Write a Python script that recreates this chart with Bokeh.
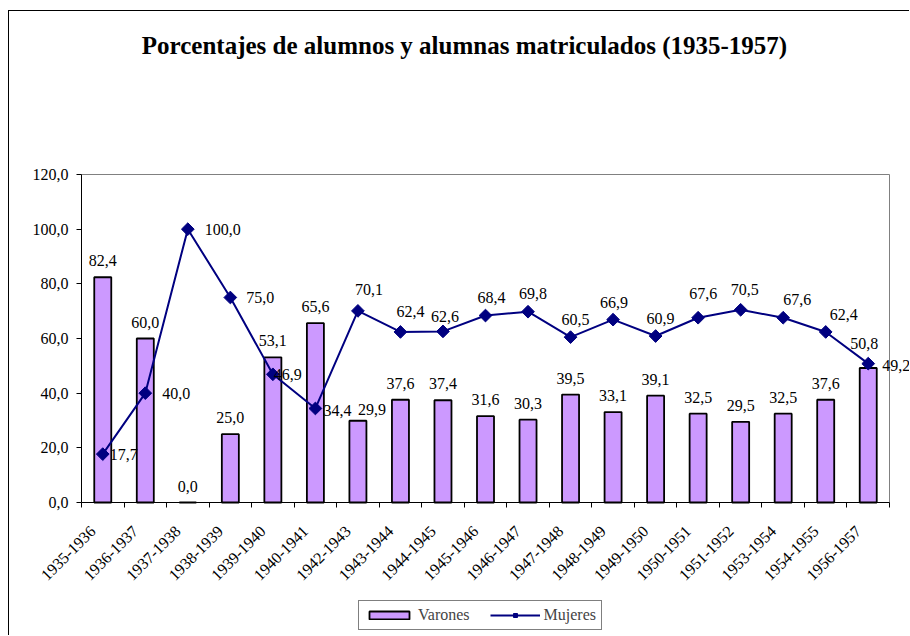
import numpy as np
from bokeh.plotting import figure
from bokeh.models import (Range1d, FixedTicker, ColumnDataSource, LabelSet, Label,
                          Legend, LegendItem)
from bokeh.embed import file_html
from bokeh.resources import INLINE
from bokeh.core.properties import value

# ---------------- data ----------------
categories = ["1935-1936", "1936-1937", "1937-1938", "1938-1939", "1939-1940",
              "1940-1941", "1942-1943", "1943-1944", "1944-1945", "1945-1946",
              "1946-1947", "1947-1948", "1948-1949", "1949-1950", "1950-1951",
              "1951-1952", "1953-1954", "1954-1955", "1956-1957"]
varones = [82.4, 60.0, 0.0, 25.0, 53.1, 65.6, 29.9, 37.6, 37.4, 31.6,
           30.3, 39.5, 33.1, 39.1, 32.5, 29.5, 32.5, 37.6, 49.2]
mujeres = [17.7, 40.0, 100.0, 75.0, 46.9, 34.4, 70.1, 62.4, 62.6, 68.4,
           69.8, 60.5, 66.9, 60.9, 67.6, 70.5, 67.6, 62.4, 50.8]
y_ticks = [0, 20, 40, 60, 80, 100, 120]
y_tick_labels = ["0,0", "20,0", "40,0", "60,0", "80,0", "100,0", "120,0"]
title_text = "Porcentajes de alumnos y alumnas matriculados (1935-1957)"

# ---------------- label placement (screen px offsets, up positive) ----------------
var_dx = [0] * 19
var_dy = [16.5] * 19
var_dx[6], var_dy[6] = 14, 11
var_dx[18], var_dy[18] = 28, 3
muj_dx = [21, 31, 35, 30, 15, 22, 11, 10, 2, 6, 5, 5, 1, 5, 5, 4, 14, 18, -4]
muj_dy = [0, 0, 0, 0, 0, -2, 21, 20, 15, 18, 18, 18, 17, 18, 24, 20, 18, 17, 20]

FONT = "Liberation Serif"
n = len(categories)
ymax = y_ticks[-1]
xc = [i + 0.5 for i in range(n)]

# screen layout (page px): canvas spans x 9..910, y 11..636; plot area 81..889 x 174..502
CX0, CY0, CX1, CY1 = 9, 11, 910, 636
PX_PER_X = (889 - 81) / n
PX_PER_Y = (502 - 174) / ymax
x_start = (CX0 - 81) / PX_PER_X
x_end = n + (CX1 - 889) / PX_PER_X
y_start = (502 - CY1) / PX_PER_Y
y_end = ymax + (174 - CY0) / PX_PER_Y
label_shift = -10 / PX_PER_X          # move rotated tick labels left


def fmt(v):
    return f"{v:.1f}".replace(".", ",")


p = figure(width=CX1 - CX0, height=CY1 - CY0, output_backend="svg",
           toolbar_location=None, title_location=None,
           x_range=Range1d(x_start, x_end), y_range=Range1d(y_start, y_end),
           min_border_left=0, min_border_right=0, min_border_top=0,
           min_border_bottom=0)
p.margin = (10, 0, 0, 8)
p.styles = {"border-left": "1px solid black", "border-top": "1px solid black"}
p.xgrid.visible = False
p.ygrid.visible = False
p.outline_line_color = None
p.background_fill_color = "white"
p.border_fill_color = "white"

# plot-area border (grey, top and right)
p.segment(x0=[0, n], y0=[ymax, 0], x1=[n, n], y1=[ymax, ymax],
          line_color="#808080", line_width=1)

# x axis
xa = p.xaxis[0]
xa.fixed_location = 0
lab_pos = [x + label_shift for x in xc]
xa.ticker = FixedTicker(ticks=lab_pos, minor_ticks=list(range(n + 1)))
xa.major_label_overrides = {x: c for x, c in zip(lab_pos, categories)}
xa.major_label_orientation = np.pi / 4
xa.bounds = (0, n)
xa.major_tick_out = 0
xa.major_tick_in = 0
xa.minor_tick_out = 5
xa.minor_tick_in = 0
xa.minor_tick_line_color = "black"
xa.axis_line_color = "black"
xa.major_label_text_font = FONT
xa.major_label_text_font_size = "16px"
xa.major_label_text_color = "black"
xa.major_label_standoff = 21

# y axis
ya = p.yaxis[0]
ya.fixed_location = 0
ya.ticker = FixedTicker(ticks=y_ticks, minor_ticks=[])
ya.major_label_overrides = {t: l for t, l in zip(y_ticks, y_tick_labels)}
ya.bounds = (0, ymax)
ya.major_tick_out = 5
ya.major_tick_in = 0
ya.minor_tick_out = 0
ya.minor_tick_in = 0
ya.major_tick_line_color = "black"
ya.axis_line_color = "black"
ya.major_label_text_font = FONT
ya.major_label_text_font_size = "16px"
ya.major_label_text_color = "black"
ya.major_label_standoff = 8

# glyphs
bars = p.vbar(x=xc, top=varones, width=0.4, fill_color="#CC99FF", line_color="black",
              line_width=1.8)
line = p.line(x=xc, y=mujeres, line_color="#000080", line_width=2)
marks = p.scatter(x=xc, y=mujeres, marker="square", angle=np.pi / 4, size=9,
                  fill_color="#000080", line_color="#000080")

# data labels
src_v = ColumnDataSource(dict(x=xc, y=varones, text=[fmt(v) for v in varones],
                              dx=var_dx, dy=var_dy))
src_m = ColumnDataSource(dict(x=xc, y=mujeres, text=[fmt(v) for v in mujeres],
                              dx=muj_dx, dy=muj_dy))
for src in (src_v, src_m):
    p.add_layout(LabelSet(x="x", y="y", text="text", x_offset="dx", y_offset="dy",
                          source=src, text_align="center", text_baseline="middle",
                          text_font=value(FONT), text_font_size=value("16px"),
                          text_color="black"))

# title
p.add_layout(Label(x=(464 - 81) / PX_PER_X, y=(502 - 45) / PX_PER_Y, text=title_text,
                   text_align="center", text_baseline="middle", text_font=FONT,
                   text_font_size="25px", text_font_style="bold", text_color="black"))

# legend
lg = Legend(items=[LegendItem(label="Varones", renderers=[bars]),
                   LegendItem(label="Mujeres", renderers=[line, marks])])
lg.orientation = "horizontal"
lg.location = (358 - CX0, CY1 - 630)
lg.border_line_color = "black"
lg.border_line_width = 1
lg.glyph_width = 50
lg.glyph_height = 10
lg.label_height = 10
lg.padding = 5
lg.spacing = 20
lg.label_standoff = 4
lg.margin = 0
lg.label_text_font = FONT
lg.label_text_font_size = "16px"
lg.background_fill_color = "white"
lg.background_fill_alpha = 1
p.add_layout(lg, "center")

open("out.html", "w").write(file_html(p, INLINE))
